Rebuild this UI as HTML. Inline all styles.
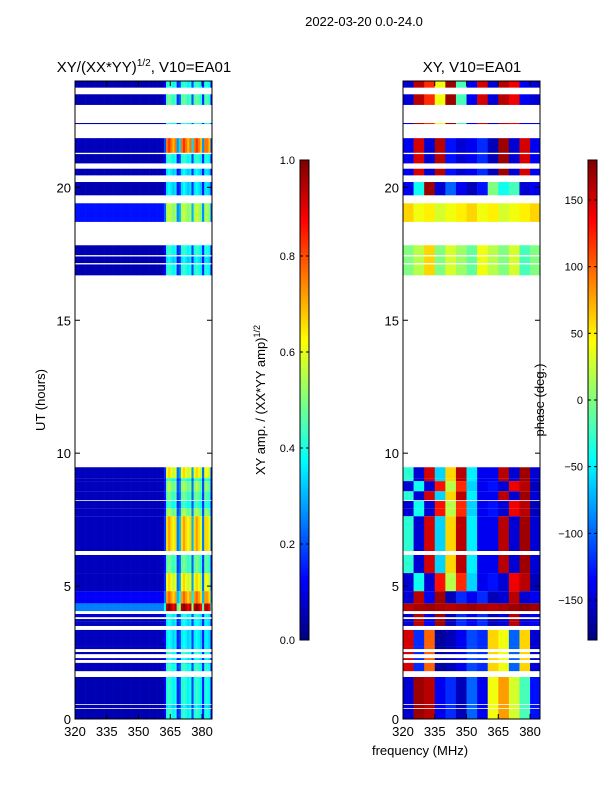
<!DOCTYPE html>
<html><head><meta charset="utf-8"><style>
body{margin:0;background:#fff}
svg{display:block;font-family:"Liberation Sans",sans-serif}
</style></head><body>
<svg id="chart" width="600" height="800" viewBox="0 0 600 800" xmlns="http://www.w3.org/2000/svg">
<text x="364" y="26" font-size="13" text-anchor="middle">2022-03-20 0.0-24.0</text>
<text x="144" y="72" font-size="15" text-anchor="middle">XY/(XX*YY)<tspan font-size="10" dy="-6">1/2</tspan><tspan dy="6">, V10=EA01</tspan></text>
<text x="472" y="72" font-size="15" text-anchor="middle">XY, V10=EA01</text>
<text transform="translate(45,400) rotate(-90)" font-size="13" text-anchor="middle">UT (hours)</text>
<text x="420" y="755" font-size="13" text-anchor="middle">frequency (MHz)</text>
<text transform="translate(265,400) rotate(-90)" font-size="13" text-anchor="middle">XY amp. / (XX*YY amp)<tspan font-size="9" dy="-5">1/2</tspan></text>
<text transform="translate(544,400) rotate(-90)" font-size="13" text-anchor="middle">phase (deg.)</text>
<g id="layer"></g>
</svg>
<script>
// ---- data ----
const bandStart = [0,0.41,0.56,1.80,2.07,2.22,2.44,2.63,2.71,3.50,3.61,3.68,3.83,4.06,4.35,4.81,5.49,5.68,6.32,7.63,7.93,8.23,8.57,8.95,9.06,16.69,17.15,17.45,18.70,19.70,20.45,20.90,21.30,22.38,23.10,23.75];
const bandEnd   = [0.38,0.53,1.58,2.07,2.11,2.29,2.52,2.71,3.35,3.61,3.68,3.76,3.95,4.35,4.81,5.49,5.68,6.17,7.63,7.93,8.20,8.57,8.95,9.06,9.47,17.10,17.40,17.82,19.40,20.20,20.70,21.25,21.85,22.42,23.50,24.00];
const ampBg     = [0.05,0.05,0.05,0.06,0.06,0.06,0.06,0.06,0.06,0.06,0.06,0.06,0.08,0.25,0.12,0.06,0.06,0.06,0.06,0.06,0.06,0.06,0.06,0.06,0.06,0.05,0.05,0.05,0.14,0.05,0.05,0.05,0.06,0.05,0.05,0.05];
const ampGain   = [0.7,0.6,0.7,0.7,0.6,0.6,0.7,0.6,0.6,0.6,0.6,0.6,0.6,1.4,1.2,1.1,0.8,0.8,1.2,0.9,0.7,0.8,0.9,0.7,1.1,0.7,0.6,0.7,0.8,0.6,0.6,0.7,1.4,0.7,0.8,0.7];
const phasePattern = [0,0,0,1,1,1,1,1,1,2,2,2,2,3,2,5,4,4,4,5,5,4,5,4,4,6,6,6,7,8,9,9,9,10,10,10];
// amplitude column profile, 1 MHz bins from 320
const ampProfile = [0,0,0,0,0,0,0,0,0,0, 0,0,0,0,0,0,0,0,0,0, 0,0,0,0,0,0,0,0,0,0, 0,0,0,0,0,0,0,0,0,0, 0,0,0.1,0.5,0.55,0.5,0.45,0.5,0.15,0.2,0.5,0.55,0.5,0.45,0.5,0.2,0.5,0.55,0.5,0.45,0.15,0.5,0.5,0.45,0.1];
// phase patterns, 5 MHz bins from 320
const phaseRows = [
 [-150,170,160,-140,-120,-160,-100,-140,40,80,30,-20,-130],
 [150,-120,100,-170,-160,-140,-110,-120,60,40,-100,60,-150],
 [-150,160,-140,170,-160,-120,-140,-120,-160,-150,160,-150,-140],
 [160,165,170,165,160,165,170,165,160,165,170,175,170],
 [-30,-150,150,-60,60,160,-50,-140,-140,160,-150,170,-150],
 [-150,-40,-150,130,20,120,-60,-140,-130,-150,140,160,-160],
 [0,20,60,0,30,10,-10,40,20,0,30,-20,0],
 [60,40,50,30,40,50,60,40,50,30,40,50,60],
 [-140,-40,170,-150,-100,-140,-160,-130,0,-40,-20,-150,-140],
 [-140,150,-150,160,-130,-150,-140,-120,-160,170,-150,150,-140],
 [-150,160,120,40,170,-20,-140,150,-150,160,140,-140,-150]
];
const xTicks = [320,335,350,365,380];
const yTicks = [0,5,10,15,20];
const ampTicks = [0.0,0.2,0.4,0.6,0.8,1.0];
const phaseTicks = [-150,-100,-50,0,50,100,150];

// ---- scales ----
const NS="http://www.w3.org/2000/svg";
const layer=document.getElementById('layer');
const fMin=320, fMax=384.7, tTop=81, tBot=719;
function yS(h){return tBot-(h/24)*(tBot-tTop);}
function jet(v){v=Math.max(0,Math.min(1,v));const c=x=>Math.round(255*Math.max(0,Math.min(1,1.5-Math.abs(4*v-x))));return `rgb(${c(3)},${c(2)},${c(1)})`;}
function mk(tag,attrs,parent){const e=document.createElementNS(NS,tag);for(const k in attrs)e.setAttribute(k,attrs[k]);(parent||layer).appendChild(e);return e;}

function panel(x0,x1,kind){
  const xS=f=>x0+(f-fMin)/(fMax-fMin)*(x1-x0);
  const g=mk('g',{});
  
  
  for(let b=0;b<bandStart.length;b++){
    const ya=yS(bandEnd[b]), yb=yS(bandStart[b]);
    if(kind==='amp'){
      for(let c=0;c<ampProfile.length;c++){
        const f=fMin+c; if(f>=fMax)break;
        const r=mk('rect',{x:xS(f),y:ya,width:xS(Math.min(f+1,fMax))-xS(f)+0.3,height:yb-ya,fill:jet(ampBg[b]+ampProfile[c]*ampGain[b])},g);
        
        
      }
    } else {
      const row=phaseRows[phasePattern[b]];
      for(let c=0;c<row.length;c++){
        const f=fMin+c*5; if(f>=fMax)break;
        const r=mk('rect',{x:xS(f),y:ya,width:xS(Math.min(f+5,fMax))-xS(f)+0.3,height:yb-ya,fill:jet((row[c]+180)/360)},g);
        
        
      }
    }
  }
  const fr=mk('rect',{x:x0,y:tTop,width:x1-x0,height:tBot-tTop,fill:'none',stroke:'#000','stroke-width':1});
  
  
  xTicks.forEach(t=>{const x=xS(t);
    mk('line',{x1:x,x2:x,y1:tBot,y2:tBot-5,stroke:'#000'});mk('line',{x1:x,x2:x,y1:tTop,y2:tTop+5,stroke:'#000'});
    const tx=mk('text',{x:x,y:tBot+17,'font-size':13,'text-anchor':'middle'});tx.textContent=t;
    
    });
  yTicks.forEach(t=>{const y=yS(t);
    mk('line',{x1:x0,x2:x0+5,y1:y,y2:y,stroke:'#000'});mk('line',{x1:x1,x2:x1-5,y1:y,y2:y,stroke:'#000'});
    const tx=mk('text',{x:x0-4,y:y+5,'font-size':13,'text-anchor':'end'});tx.textContent=t;
    
    });
}
panel(75,212,'amp');
panel(403,540,'phase');

function colorbar(x,ticks,lo,hi,name){
  const top=160,bot=640,w=9,n=120;
  const g=mk('g',{});
  
  
  for(let i=0;i<n;i++){const y=bot-(i+1)*(bot-top)/n;mk('rect',{x:x,y:y,width:w,height:(bot-top)/n+0.5,fill:jet((i+0.5)/n)},g);}
  mk('rect',{x:x,y:top,width:w,height:bot-top,fill:'none',stroke:'#000'},g);
  ticks.forEach(t=>{const y=bot-(t-lo)/(hi-lo)*(bot-top);
    mk('line',{x1:x,x2:x+3,y1:y,y2:y,stroke:'#000'},g);mk('line',{x1:x+w,x2:x+w-3,y1:y,y2:y,stroke:'#000'},g);
    const tx=mk('text',{x:x-5,y:y+4,'font-size':11,'text-anchor':'end'},g);tx.textContent=(lo===0?t.toFixed(1):String(t).replace('-','\u2212'));
    
    });
}
colorbar(300,ampTicks,0,1,'amp-colorbar');
colorbar(588,phaseTicks,-180,180,'phase-colorbar');
</script>
</body></html>
